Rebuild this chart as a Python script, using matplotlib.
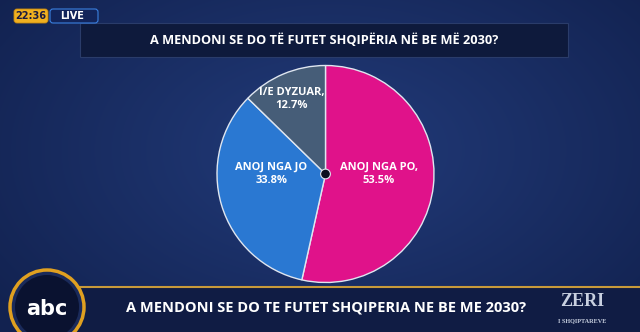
import numpy as np
import matplotlib.pyplot as plt
from matplotlib.patches import Rectangle, FancyBboxPatch, Circle

# poll data
labels = ["ANOJ NGA PO,", "ANOJ NGA JO", "I/E DYZUAR,"]
shares = [53.5, 33.8, 12.7]
colors = ["#e0128a", "#2a78d2", "#465d78"]

title = "A MENDONI SE DO TË FUTET SHQIPËRIA NË BE MË 2030?"
ticker = "A MENDONI SE DO TE FUTET SHQIPERIA NE BE ME 2030?"

W, H = 640, 332
fig = plt.figure(figsize=(W / 100, H / 100), dpi=100)

# background in pixel coords (y down)
bg = fig.add_axes([0, 0, 1, 1])
bg.set_xlim(0, W)
bg.set_ylim(H, 0)
bg.axis("off")
yy, xx = np.mgrid[0:H, 0:W]
d = np.sqrt(((xx - 330) / 420) ** 2 + ((yy - 150) / 260) ** 2)
c0 = np.array([0x22, 0x3b, 0x7a]) / 255
c1 = np.array([0x12, 0x22, 0x50]) / 255
t = np.clip(d, 0, 1)[..., None]
bg.imshow(c0 * (1 - t) + c1 * t, extent=[0, W, H, 0], aspect="auto", zorder=0)

# title box
bg.add_patch(Rectangle((80, 23), 488, 34, facecolor="#0e1a3c", edgecolor="#2a3c6a",
                       lw=0.8, zorder=1))
bg.text(324, 40, title, color="white", fontsize=9.2, fontweight="bold",
        ha="center", va="center", family="Open Sans", zorder=2)

# live badge
bg.add_patch(FancyBboxPatch((14, 9), 34, 14, boxstyle="round,pad=0,rounding_size=3",
                            facecolor="#f0b020", edgecolor="#c88a10", lw=0.6, zorder=3))
bg.text(31, 16, "22:36", color="#1a1a40", fontsize=7, fontweight="bold",
        ha="center", va="center", zorder=4)
bg.add_patch(FancyBboxPatch((50, 9), 48, 14, boxstyle="round,pad=0,rounding_size=3",
                            facecolor="#12245a", edgecolor="#3a80e0", lw=0.8, zorder=3))
bg.text(72, 16, "LIVE", color="white", fontsize=7, fontweight="bold",
        ha="center", va="center", zorder=4)

# bottom ticker
bg.add_patch(Rectangle((60, 287), 580, 45, facecolor="#101c44", edgecolor="none", zorder=5))
bg.plot([60, 640], [287, 287], color="#c89a3a", lw=1.5, zorder=6)
bg.add_patch(Circle((47, 307), 37, facecolor="#1a2a5a", edgecolor="#e0a020", lw=2.5, zorder=7))
bg.add_patch(Circle((47, 307), 32, facecolor="#0a1230", edgecolor="none", zorder=8))
bg.text(47, 309, "abc", color="white", fontsize=15, fontweight="bold",
        ha="center", va="center", family="DejaVu Sans", zorder=9)
bg.text(326, 308, ticker, color="white", fontsize=10.5, fontweight="bold",
        ha="center", va="center", family="Open Sans", zorder=9)
bg.text(582, 301, "ZERI", color="#c8d0e0", fontsize=13, fontweight="bold",
        ha="center", va="center", family="Liberation Serif", zorder=9)
bg.text(582, 321, "I SHQIPTAREVE", color="#c8d0e0", fontsize=4.5, fontweight="bold",
        ha="center", va="center", family="Liberation Serif", zorder=9)

# pie
cx, cy, r = 325.5, 174, 108.5
ax = fig.add_axes([(cx - r) / W, (H - cy - r) / H, 2 * r / W, 2 * r / H])
ax.pie(shares, colors=colors, startangle=90, counterclock=False, radius=1,
       wedgeprops=dict(edgecolor="#dfe6f0", linewidth=1.0))
ax.set_xlim(-1.0, 1.0)
ax.set_ylim(-1.0, 1.0)
ax.set_aspect("equal")
ax.axis("off")
ax.add_patch(Circle((0, 0), 0.045, facecolor="#0a0f20", edgecolor="#e0e6f0", lw=0.8, zorder=5))

label_pos = [(0.49, 0.0), (-0.50, 0.0), (-0.31, 0.69)]
for lab, val, (x, y) in zip(labels, shares, label_pos):
    ax.text(x, y, f"{lab}\n{val}%", color="white", fontsize=8, fontweight="bold",
            ha="center", va="center", linespacing=1.3, family="Open Sans", zorder=6)

fig.savefig("out.png", dpi=100)
